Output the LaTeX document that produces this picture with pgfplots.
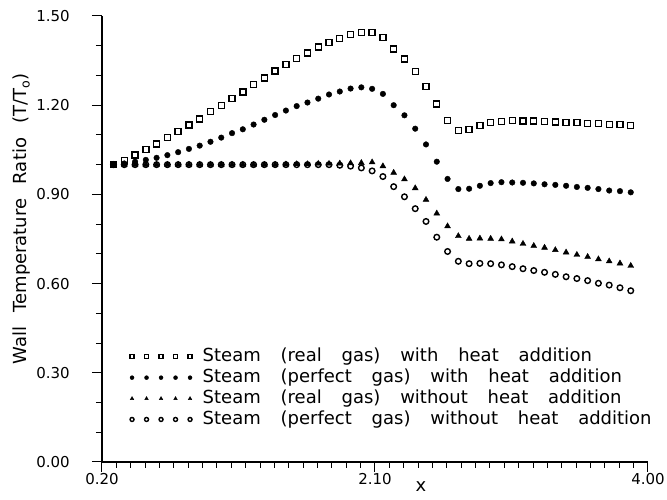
\documentclass[border=0pt]{standalone}
\usepackage{fontspec}
\setmainfont{DejaVu Sans}
\usepackage{pgfplots}
\usepackage{pgfplotstable}
\pgfplotsset{compat=1.18}
\newcommand\legfont{\fontsize{18}{20}\selectfont\spaceskip 1.1em\relax}
\newcommand\labfont{\fontsize{18}{18}\selectfont\spaceskip 0.8em\relax}
\newcommand\tickfont{\fontsize{15}{15}\selectfont}

\pgfplotstableread{
x     a      b      c      d
0.280 1.000  1.000  1.000  1.000
0.355 1.015  1.004  1.000  1.000
0.430 1.032  1.010  1.000  1.000
0.505 1.050  1.016  1.000  1.000
0.580 1.070  1.023  1.000  1.000
0.655 1.092  1.032  1.000  1.000
0.730 1.111  1.042  1.000  1.000
0.805 1.134  1.053  1.000  1.000
0.880 1.154  1.064  1.000  1.000
0.955 1.178  1.077  1.000  1.000
1.030 1.199  1.091  1.000  1.000
1.105 1.222  1.106  1.000  1.000
1.180 1.245  1.119  1.000  1.000
1.255 1.269  1.135  1.000  1.000
1.330 1.292  1.151  1.000  1.000
1.405 1.315  1.167  1.000  1.000
1.480 1.337  1.182  1.001  1.000
1.555 1.357  1.197  1.002  1.000
1.630 1.376  1.209  1.002  1.000
1.705 1.396  1.222  1.003  1.000
1.780 1.411  1.236  1.003  1.000
1.855 1.424  1.246  1.004  0.998
1.930 1.438  1.256  1.005  0.995
2.005 1.445  1.260  1.006  0.989
2.080 1.444  1.255  1.008  0.979
2.155 1.427  1.238  0.995  0.960
2.230 1.389  1.200  0.973  0.926
2.305 1.355  1.166  0.951  0.892
2.380 1.313  1.121  0.921  0.852
2.455 1.263  1.068  0.882  0.809
2.530 1.204  1.010  0.836  0.756
2.605 1.148  0.952  0.793  0.708
2.680 1.114  0.918  0.760  0.675
2.755 1.118  0.919  0.751  0.667
2.830 1.131  0.929  0.752  0.668
2.905 1.142  0.938  0.751  0.667
2.980 1.146  0.941  0.749  0.663
3.055 1.148  0.940  0.742  0.657
3.130 1.147  0.939  0.734  0.650
3.205 1.147  0.937  0.727  0.644
3.280 1.146  0.934  0.721  0.638
3.355 1.143  0.932  0.713  0.631
3.430 1.142  0.929  0.705  0.623
3.505 1.141  0.925  0.697  0.617
3.580 1.138  0.922  0.690  0.610
3.655 1.138  0.918  0.682  0.601
3.730 1.136  0.913  0.675  0.595
3.805 1.135  0.911  0.668  0.586
3.880 1.132  0.907  0.660  0.576
}\datatable

\begin{document}
\begin{tikzpicture}
\useasboundingbox (-102pt,-38pt) rectangle (565pt,462pt);
\begin{axis}[
  scale only axis,
  width=546pt, height=446pt,
  xmin=0.2, xmax=4.0, ymin=0, ymax=1.5,
  axis lines*=left,
  axis line style={line width=1.2pt},
  xtick={0.2,2.1,4.0},
  minor x tick num=18,
  ytick={0,0.3,0.6,0.9,1.2,1.5},
  minor y tick num=2,
  tick align=outside,
  major tick length=10pt,
  minor tick length=6pt,
  every tick/.style={black, line width=1pt},
  /pgf/number format/assume math mode=true,
  /pgf/number format/fixed,
  /pgf/number format/fixed zerofill,
  /pgf/number format/precision=2,
  tick label style={font=\tickfont},
  yticklabel style={anchor=east, xshift=-22pt, inner sep=0pt},
  xticklabel style={anchor=north, yshift=-1pt, inner sep=0pt},
  ylabel={Wall Temperature Ratio (T/T\textsubscript{o})},
  ylabel style={at={(axis description cs:-0.1465,0.545)}, anchor=center, font=\labfont},
  xlabel={x},
  xlabel style={at={(axis description cs:0.584,0)}, anchor=center, yshift=-25pt, font=\labfont},
  clip=false,
  legend cell align=left,
  legend style={at={(axis description cs:0.051,0.256)}, anchor=north west,
    draw=none, fill=none, inner sep=0pt, row sep=3.4pt,
    font=\legfont,
    nodes={inner sep=0pt, text height=13.5pt, text depth=4pt}},
  legend image code/.code={\draw[#1, only marks, mark size=2pt] plot coordinates {(0pt,0pt) (14.5pt,0pt) (29pt,0pt) (43.5pt,0pt) (58pt,0pt)};
    \path (70pt,0pt);},
]
\addplot[only marks, mark=square, mark size=3pt, line width=1.4pt] table[x=x,y=a] {\datatable};
\addlegendentry{Steam (real gas) with heat addition}
\addplot[only marks, mark=*, mark size=2.8pt] table[x=x,y=b] {\datatable};
\addlegendentry{Steam (perfect gas) with heat addition}
\addplot[only marks, mark=triangle*, mark size=3.4pt] table[x=x,y=c] {\datatable};
\addlegendentry{Steam (real gas) without heat addition}
\addplot[only marks, mark=o, mark size=2.8pt, line width=1.4pt] table[x=x,y=d] {\datatable};
\addlegendentry{Steam (perfect gas) without heat addition}
\end{axis}
\end{tikzpicture}
\end{document}
